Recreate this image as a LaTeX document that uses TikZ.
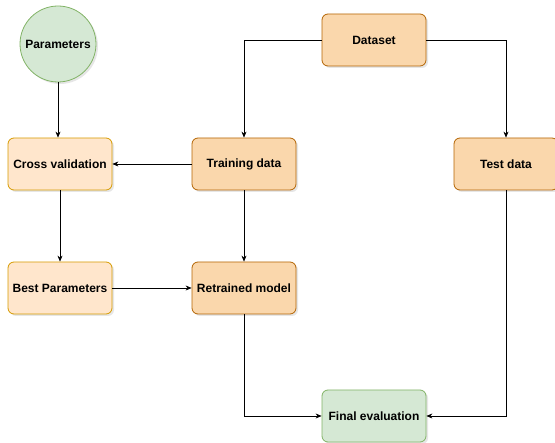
\documentclass[tikz,border=0pt]{standalone}
\usepackage{fontspec}
\setmainfont{Liberation Sans}
\usetikzlibrary{arrows.meta,shadows}
\definecolor{darkfill}{HTML}{FAD7AC}
\definecolor{darkline}{HTML}{B46504}
\definecolor{lightfill}{HTML}{FFE6CC}
\definecolor{lightline}{HTML}{D79B00}
\definecolor{greenfill}{HTML}{D5E8D4}
\definecolor{greenline}{HTML}{82B366}
\tikzset{
  box/.style={rounded corners=6pt, minimum width=104pt, minimum height=52pt,
    font=\fontsize{12}{14}\selectfont\bfseries, line width=0.8pt,
    drop shadow={opacity=0.2, shadow xshift=2pt, shadow yshift=-2pt}},
  darkbox/.style={box, fill=darkfill, draw=darkline},
  lightbox/.style={box, fill=lightfill, draw=lightline},
  greenbox/.style={box, fill=greenfill, draw=greenline},
  conn/.style={-{Stealth[length=6pt,width=5pt]}, line width=0.6pt}
}

\begin{document}
\begin{tikzpicture}[x=1pt,y=-1pt]
\useasboundingbox (0,0) rectangle (555,443);
\node[circle, minimum size=76pt, fill=greenfill, draw=greenline, line width=0.8pt,
  font=\fontsize{12}{14}\selectfont\bfseries,
  drop shadow={opacity=0.2, shadow xshift=2pt, shadow yshift=-2pt}] (params) at (58,44) {Parameters};
\node[darkbox] (dataset) at (374,40) {Dataset};
\node[lightbox] (crossval) at (60,164) {Cross validation};
\node[darkbox] (train) at (244,164) {Training data};
\node[darkbox] (test) at (506,164) {Test data};
\node[lightbox] (bestpar) at (60,288) {Best Parameters};
\node[darkbox] (retrain) at (244,288) {Retrained model};
\node[greenbox] (final) at (374,416) {Final evaluation};
\draw[conn] (params) -- (params.south |- crossval.north);
\draw[conn] (dataset.west) -| (train.north);
\draw[conn] (dataset.east) -| (test.north);
\draw[conn] (train.west) -- (crossval.east);
\draw[conn] (crossval.south) -- (bestpar.north);
\draw[conn] (train.south) -- (retrain.north);
\draw[conn] (bestpar.east) -- (retrain.west);
\draw[conn] (retrain.south) |- (final.west);
\draw[conn] (test.south) |- (final.east);
\end{tikzpicture}
\end{document}
